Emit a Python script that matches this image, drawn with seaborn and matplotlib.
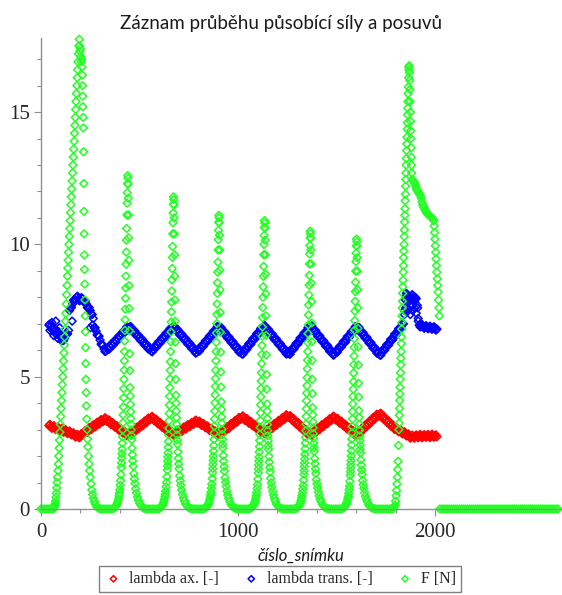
import matplotlib
matplotlib.use("Agg")
import matplotlib.pyplot as plt
import seaborn as sns
from matplotlib.ticker import MultipleLocator

# lambda ax. [-] and lambda trans. [-], one value every 10 frames (40 ... 2010)
frames_lambda = list(range(40, 2011, 10))

lambda_ax = [
    3.15, 3.12, 3.1, 3.08, 3.05, 3.03, 3.0, 2.98, 2.95, 2.92, 2.9, 2.87, 2.84, 2.8, 2.77, 2.74, 2.75,
    2.82, 2.88, 2.93, 2.99, 3.04, 3.09, 3.14, 3.19, 3.24, 3.29, 3.34, 3.38, 3.4,
    3.33, 3.28, 3.22, 3.17, 3.12, 3.06, 3.01, 2.96, 2.9, 2.85, 2.81,
    2.83, 2.88, 2.94, 3.0, 3.06, 3.11, 3.17, 3.23, 3.29, 3.35, 3.41, 3.47,
    3.42, 3.36, 3.3, 3.24, 3.18, 3.12, 3.06, 3.0, 2.94, 2.88, 2.82,
    2.84, 2.88, 2.93, 2.97, 3.01, 3.06, 3.1, 3.15, 3.19, 3.23, 3.28, 3.32,
    3.28, 3.24, 3.19, 3.15, 3.1, 3.05, 3.01, 2.96, 2.91, 2.86, 2.82,
    2.85, 2.91, 2.96, 3.02, 3.08, 3.14, 3.2, 3.25, 3.31, 3.37, 3.42, 3.48,
    3.43, 3.38, 3.33, 3.27, 3.22, 3.17, 3.11, 3.06, 3.0, 2.95, 2.89,
    2.92, 2.97, 3.03, 3.08, 3.14, 3.19, 3.25, 3.3, 3.36, 3.41, 3.47, 3.53,
    3.5, 3.44, 3.37, 3.3, 3.24, 3.17, 3.1, 3.04, 2.97, 2.9, 2.84, 2.81,
    2.86, 2.92, 2.97, 3.03, 3.09, 3.15, 3.2, 3.26, 3.32, 3.38, 3.44, 3.46,
    3.4, 3.34, 3.28, 3.23, 3.17, 3.11, 3.05, 2.99, 2.93, 2.87, 2.81,
    2.86, 2.93, 3.0, 3.07, 3.14, 3.21, 3.28, 3.35, 3.42, 3.49, 3.55, 3.59,
    3.52, 3.44, 3.37, 3.3, 3.23, 3.16, 3.1, 3.04, 3.0, 2.96, 2.92, 2.88, 2.84, 2.8, 2.76, 2.72,
    2.73, 2.75, 2.74, 2.76, 2.75, 2.74, 2.76, 2.77, 2.75, 2.76, 2.77, 2.76, 2.73,
]

lambda_trans = [
    6.95, 6.9, 6.8, 6.75, 6.6, 6.7, 6.5, 6.4, 6.45, 6.6, 6.75,
    7.6, 7.75, 7.9, 8.0, 7.95, 7.9, 7.95, 7.85, 7.75, 7.6, 7.5, 7.35,
    6.85, 6.72, 6.55, 6.38, 6.2, 6.05, 5.97,
    6.05, 6.13, 6.2, 6.28, 6.36, 6.44, 6.52, 6.6, 6.68, 6.77, 6.86,
    6.87, 6.8, 6.72, 6.64, 6.55, 6.47, 6.39, 6.3, 6.22, 6.14, 6.05, 5.96,
    6.03, 6.12, 6.2, 6.29, 6.37, 6.46, 6.54, 6.63, 6.71, 6.8, 6.88,
    6.84, 6.76, 6.67, 6.59, 6.5, 6.42, 6.33, 6.25, 6.16, 6.08, 5.99, 5.91,
    5.98, 6.07, 6.16, 6.25, 6.34, 6.43, 6.52, 6.61, 6.7, 6.79, 6.88,
    6.84, 6.75, 6.66, 6.57, 6.48, 6.39, 6.3, 6.21, 6.12, 6.03, 5.94, 5.86,
    5.95, 6.04, 6.14, 6.23, 6.33, 6.42, 6.52, 6.61, 6.71, 6.8, 6.9,
    6.86, 6.77, 6.68, 6.59, 6.5, 6.41, 6.32, 6.23, 6.14, 6.05, 5.96, 5.87,
    5.86, 5.96, 6.06, 6.15, 6.25, 6.35, 6.44, 6.54, 6.64, 6.74, 6.84, 6.9,
    6.81, 6.72, 6.63, 6.53, 6.44, 6.35, 6.25, 6.16, 6.07, 5.97, 5.88, 5.85,
    5.94, 6.03, 6.13, 6.22, 6.31, 6.41, 6.5, 6.59, 6.68, 6.78, 6.87,
    6.84, 6.75, 6.65, 6.56, 6.47, 6.37, 6.28, 6.18, 6.09, 5.99, 5.9, 5.82,
    5.91, 6.01, 6.1, 6.2, 6.3, 6.4, 6.5, 6.6, 6.7, 6.8, 6.9, 7.0,
    7.9, 8.1, 7.95, 8.05, 7.85, 8.0, 7.7,
    6.95, 6.93, 6.9, 6.88, 6.87, 6.86, 6.85, 6.84, 6.83, 6.8,
]

# the in-between frames (45 ... 2005): the measured bands are a bit noisy
frames_lambda_mid = list(range(45, 2006, 10))

lambda_ax_mid = [
    3.2, 3.05, 3.15, 3.0, 3.1, 2.96, 3.05, 2.9, 3.0, 2.85, 2.95, 2.8, 2.88, 2.72, 2.82, 2.69,
    2.85, 2.79, 2.97, 2.9, 3.08, 3.0, 3.18, 3.1, 3.28, 3.2, 3.38, 3.3, 3.45,
    3.31, 3.37, 3.19, 3.26, 3.09, 3.15, 2.98, 3.05, 2.87, 2.94, 2.77,
    2.88, 2.8, 2.97, 2.91, 3.09, 3.03, 3.2, 3.14, 3.32, 3.26, 3.44, 3.38,
    3.5, 3.33, 3.39, 3.21, 3.27, 3.09, 3.15, 2.97, 3.03, 2.85, 2.91,
    2.77, 2.92, 2.85, 3.01, 2.93, 3.1, 3.02, 3.19, 3.11, 3.27, 3.2, 3.36,
    3.24, 3.32, 3.16, 3.23, 3.07, 3.14, 2.97, 3.05, 2.88, 2.95, 2.78,
    2.9, 2.82, 3.0, 2.93, 3.11, 3.05, 3.23, 3.17, 3.34, 3.28, 3.46, 3.39,
    3.52, 3.35, 3.42, 3.24, 3.31, 3.14, 3.2, 3.03, 3.09, 2.92, 2.98,
    2.85, 3.0, 2.94, 3.12, 3.05, 3.23, 3.16, 3.34, 3.27, 3.45, 3.38, 3.56,
    3.46, 3.53, 3.35, 3.4, 3.21, 3.27, 3.08, 3.13, 2.95, 3.0, 2.81, 2.89,
    2.78, 2.95, 2.89, 3.06, 3.0, 3.18, 3.12, 3.29, 3.23, 3.41, 3.35, 3.51,
    3.37, 3.43, 3.25, 3.32, 3.14, 3.2, 3.02, 3.08, 2.9, 2.96, 2.78,
    2.9, 2.84, 3.03, 2.98, 3.17, 3.12, 3.31, 3.26, 3.45, 3.4, 3.58, 3.51,
    3.62, 3.42, 3.47, 3.28, 3.33, 3.14, 3.19, 3.01, 3.08, 2.92, 3.0, 2.84, 2.92, 2.76, 2.84, 2.68,
    2.79, 2.68, 2.8, 2.69, 2.82, 2.69, 2.81, 2.71, 2.82, 2.7, 2.83, 2.71, 2.8,
]

lambda_trans_mid = [
    6.99, 6.79, 6.84, 6.62, 6.71, 6.54, 6.51, 6.37, 6.59, 6.62,
    7.5, 7.62, 7.89, 7.89, 8.04, 7.87, 7.99, 7.84, 7.86, 7.62,
    7.61, 7.37, 7.2, 6.85, 6.58, 6.53, 6.23, 6.19, 5.95,
    6.07, 6.03, 6.23, 6.18, 6.38, 6.34, 6.54, 6.5, 6.7, 6.67, 6.88, 6.81,
    6.9, 6.7, 6.74, 6.54, 6.57, 6.37, 6.41, 6.2, 6.24, 6.04, 6.07, 5.94,
    6.14, 6.1, 6.31, 6.27, 6.48, 6.44, 6.65, 6.61, 6.82, 6.78, 6.92,
    6.74, 6.78, 6.57, 6.61, 6.4, 6.44, 6.23, 6.27, 6.06, 6.1, 5.89,
    6.01, 5.97, 6.18, 6.15, 6.36, 6.33, 6.54, 6.51, 6.72, 6.69, 6.9,
    6.8, 6.86, 6.65, 6.68, 6.47, 6.5, 6.29, 6.32, 6.11, 6.14, 5.93, 5.96,
    5.85, 6.06, 6.03, 6.25, 6.22, 6.44, 6.41, 6.63, 6.6, 6.82, 6.79,
    6.94, 6.76, 6.79, 6.58, 6.61, 6.4, 6.43, 6.22, 6.25, 6.04, 6.07, 5.86,
    5.93, 5.85, 6.07, 6.05, 6.26, 6.24, 6.46, 6.43, 6.65, 6.63, 6.85, 6.81,
    6.92, 6.71, 6.74, 6.52, 6.55, 6.34, 6.36, 6.15, 6.18, 5.96, 5.99, 5.81,
    5.96, 5.93, 6.14, 6.12, 6.33, 6.3, 6.52, 6.49, 6.7, 6.67, 6.89,
    6.8, 6.86, 6.64, 6.67, 6.46, 6.48, 6.27, 6.29, 6.08, 6.1, 5.89, 5.92,
    5.81, 6.02, 6.0, 6.21, 6.19, 6.41, 6.39, 6.61, 6.59, 6.81, 6.79, 7.01,
    7.5, 8.05, 7.9, 8.0, 7.95, 7.85, 7.95, 7.1,
    6.88, 6.97, 6.83, 6.93, 6.81, 6.91, 6.79, 6.89, 6.76,
]

# stray lambda trans. points (start blob, loose points, cluster near frame 1850-1915)
frames_trans_extra = [45, 55, 65, 75, 85, 95, 105, 158, 250, 262,
                      1845, 1852, 1855, 1858, 1863, 1865, 1868, 1875, 1880, 1885,
                      1887, 1893, 1895, 1898, 1905, 1912, 1915]
lambda_trans_extra = [6.75, 7.05, 6.55, 7.1, 6.45, 6.85, 6.35, 7.1, 6.85, 6.95,
                      7.35, 7.6, 8.15, 7.45, 7.8, 8.0, 7.55, 7.35, 7.7, 8.1,
                      7.5, 7.9, 7.95, 7.6, 7.4, 7.6, 7.2]

# F [N], one block per loading cycle
frames_f1 = ([0, 10, 20, 30, 40, 50] + list(range(60, 195, 2))
             + [196, 198, 200, 202, 204, 206, 208] + list(range(210, 231))
             + [232, 234, 236, 238, 241, 244, 247, 250, 254, 258, 262, 266, 271, 276, 282, 288,
                295, 302, 310, 320, 330, 340, 350])
force_f1 = [0.0, 0.0, 0.0, 0.0, 0.0, 0.0,
            0.0, 0.01, 0.03, 0.05, 0.1, 0.15, 0.2, 0.3, 0.45, 0.6, 0.8, 1.0, 1.2, 1.45, 1.7, 2.0, 2.3,
            2.6, 2.9, 3.2, 3.5, 3.8, 4.1, 4.4, 4.7, 5.0, 5.3, 5.6, 5.9, 6.2, 6.5, 6.8, 7.1, 7.4,
            7.75, 8.1, 8.45, 8.8, 9.1, 9.4, 9.7, 10.0, 10.3, 10.6, 10.9, 11.2, 11.5, 11.8,
            12.1, 12.4, 12.7, 13.0, 13.3, 13.6, 13.9, 14.2, 14.5, 14.8, 15.1, 15.4, 15.7,
            16.0, 16.3, 16.6, 16.9, 17.2, 17.5, 17.75,
            17.5, 17.3, 17.4, 17.1, 16.9, 17.0, 16.7,
            16.4, 16.0, 15.6, 15.2, 14.8, 14.4, 13.5, 12.3, 11.25, 10.4, 9.6, 9.05, 8.5, 7.9,
            7.3, 6.7, 6.1, 5.5, 4.9, 4.4, 3.9,
            3.4, 3.0, 2.65, 2.35, 2.0, 1.7, 1.45, 1.2, 0.95, 0.72, 0.55, 0.4, 0.28, 0.18, 0.1, 0.05,
            0.02, 0.0, 0.0, 0.0, 0.0, 0.0, 0.0]

frames_f2 = ([360, 368, 374, 379, 383, 387, 390, 393, 396, 398, 400, 402, 404, 406] + list(range(408, 461))
             + [462, 464, 466, 468, 471, 474, 477, 481, 485, 490, 495, 501, 507, 514, 522, 530, 538,
                548, 558, 568, 578, 588])
force_f2 = [0.0, 0.02, 0.05, 0.1, 0.15, 0.21, 0.29, 0.38, 0.5, 0.6, 0.73, 0.9, 1.07, 1.3,
            1.57, 1.74, 1.92, 2.09, 2.26, 2.49, 2.72, 2.99,
            3.26, 3.56, 3.86, 4.2, 4.55, 4.9, 5.25, 5.6, 5.95, 6.35, 6.75, 7.15, 7.55, 7.96,
            8.35, 8.8, 9.25, 9.71, 10.16, 10.6, 11.11, 11.56, 11.95, 12.3, 12.6,
            12.5, 12.28, 11.75, 11.11, 10.25, 9.4, 8.44, 7.58, 6.73, 5.87, 5.23, 4.59,
            4.27, 3.95, 3.68, 3.42, 3.2, 2.99, 2.78, 2.62,
            2.3, 2.05, 1.82, 1.62, 1.34, 1.14, 0.96, 0.77, 0.6, 0.45, 0.33, 0.21, 0.14, 0.07,
            0.03, 0.01, 0.0, 0.0, 0.0, 0.0, 0.0, 0.0]

frames_f3 = ([593, 601, 607, 612, 616, 620, 623, 626, 629, 631, 633, 635, 637, 639] + list(range(641, 694))
             + [695, 697, 699, 701, 704, 707, 710, 714, 718, 723, 728, 734, 740, 747, 755, 763, 771,
                781, 791, 801, 811, 821])
force_f3 = [0.0, 0.02, 0.05, 0.09, 0.14, 0.2, 0.27, 0.36, 0.47, 0.56, 0.68, 0.84, 1.0, 1.22,
            1.47, 1.63, 1.8, 1.96, 2.12, 2.33, 2.55, 2.8,
            3.05, 3.33, 3.61, 3.93, 4.26, 4.59, 4.92, 5.24, 5.57, 5.95, 6.32, 6.69, 7.07, 7.45,
            7.82, 8.24, 8.66, 9.09, 9.51, 9.92, 10.4, 10.82, 11.19, 11.52, 11.8,
            11.7, 11.5, 11.0, 10.4, 9.6, 8.8, 7.9, 7.1, 6.3, 5.5, 4.9, 4.3,
            4.0, 3.7, 3.45, 3.2, 3.0, 2.8, 2.6, 2.45,
            2.15, 1.92, 1.7, 1.52, 1.25, 1.07, 0.9, 0.72, 0.56, 0.42, 0.31, 0.2, 0.13, 0.07,
            0.03, 0.01, 0.0, 0.0, 0.0, 0.0, 0.0, 0.0]

frames_f4 = ([823, 831, 837, 842, 846, 850, 853, 856, 859, 861, 863, 865, 867, 869] + list(range(871, 924))
             + [925, 927, 929, 931, 934, 937, 940, 944, 948, 953, 958, 964, 970, 977, 985, 993, 1001,
                1011, 1021, 1031, 1041, 1051])
force_f4 = [0.0, 0.02, 0.05, 0.08, 0.13, 0.19, 0.25, 0.34, 0.44, 0.53, 0.64, 0.79, 0.94, 1.15,
            1.38, 1.53, 1.69, 1.84, 1.99, 2.19, 2.4, 2.63,
            2.87, 3.13, 3.4, 3.7, 4.01, 4.32, 4.63, 4.93, 5.24, 5.6, 5.95, 6.3, 6.65, 7.01,
            7.36, 7.75, 8.15, 8.55, 8.95, 9.33, 9.79, 10.18, 10.53, 10.84, 11.1,
            11.01, 10.82, 10.35, 9.79, 9.03, 8.28, 7.43, 6.68, 5.93, 5.18, 4.61, 4.05,
            3.76, 3.48, 3.25, 3.01, 2.82, 2.63, 2.45, 2.31,
            2.02, 1.81, 1.6, 1.43, 1.18, 1.01, 0.85, 0.68, 0.53, 0.4, 0.29, 0.19, 0.12, 0.07,
            0.03, 0.01, 0.0, 0.0, 0.0, 0.0, 0.0, 0.0]

frames_f5 = ([1055, 1063, 1069, 1074, 1078, 1082, 1085, 1088, 1091, 1093, 1095, 1097, 1099, 1101]
             + list(range(1103, 1156))
             + [1157, 1159, 1161, 1163, 1166, 1169, 1172, 1176, 1180, 1185, 1190, 1196, 1202, 1209,
                1217, 1225, 1233, 1243, 1253, 1263, 1273, 1283])
force_f5 = [0.0, 0.02, 0.05, 0.08, 0.13, 0.18, 0.25, 0.33, 0.43, 0.52, 0.63, 0.78, 0.92, 1.13,
            1.36, 1.51, 1.66, 1.81, 1.96, 2.15, 2.36, 2.59,
            2.82, 3.08, 3.34, 3.63, 3.94, 4.24, 4.55, 4.84, 5.15, 5.5, 5.84, 6.18, 6.53, 6.88,
            7.23, 7.61, 8.0, 8.4, 8.79, 9.17, 9.61, 10.0, 10.34, 10.64, 10.9,
            10.81, 10.63, 10.16, 9.61, 8.87, 8.13, 7.3, 6.56, 5.82, 5.08, 4.53, 3.97,
            3.7, 3.42, 3.19, 2.96, 2.77, 2.59, 2.4, 2.26,
            1.99, 1.77, 1.57, 1.4, 1.16, 0.99, 0.83, 0.67, 0.52, 0.39, 0.29, 0.18, 0.12, 0.06,
            0.03, 0.01, 0.0, 0.0, 0.0, 0.0, 0.0, 0.0]

frames_f6 = ([1287, 1295, 1301, 1306, 1310, 1314, 1317, 1320, 1323, 1325, 1327, 1329, 1331, 1333]
             + list(range(1335, 1388))
             + [1389, 1391, 1393, 1395, 1398, 1401, 1404, 1408, 1412, 1417, 1422, 1428, 1434, 1441,
                1449, 1457, 1465, 1475, 1485, 1495, 1505, 1515])
force_f6 = [0.0, 0.02, 0.04, 0.08, 0.12, 0.18, 0.24, 0.32, 0.42, 0.5, 0.61, 0.75, 0.89, 1.09,
            1.31, 1.45, 1.6, 1.74, 1.89, 2.07, 2.27, 2.49,
            2.71, 2.96, 3.21, 3.5, 3.79, 4.09, 4.38, 4.66, 4.96, 5.3, 5.62, 5.95, 6.29, 6.63,
            6.96, 7.33, 7.71, 8.09, 8.46, 8.83, 9.26, 9.63, 9.96, 10.25, 10.5,
            10.41, 10.24, 9.79, 9.26, 8.54, 7.83, 7.03, 6.32, 5.61, 4.9, 4.36, 3.83,
            3.56, 3.29, 3.07, 2.85, 2.67, 2.49, 2.31, 2.18,
            1.91, 1.71, 1.51, 1.35, 1.11, 0.95, 0.8, 0.64, 0.5, 0.37, 0.28, 0.18, 0.12, 0.06,
            0.03, 0.01, 0.0, 0.0, 0.0, 0.0, 0.0, 0.0]

frames_f7 = ([1522, 1530, 1536, 1541, 1545, 1549, 1552, 1555, 1558, 1560, 1562, 1564, 1566, 1568]
             + list(range(1570, 1623))
             + [1624, 1626, 1628, 1630, 1633, 1636, 1639, 1643, 1647, 1652, 1657, 1663, 1669, 1676,
                1684, 1692, 1700, 1710, 1720, 1730, 1740, 1750, 1760, 1770, 1780])
force_f7 = [0.0, 0.02, 0.04, 0.08, 0.12, 0.17, 0.23, 0.31, 0.41, 0.48, 0.59, 0.73, 0.86, 1.05,
            1.27, 1.41, 1.56, 1.69, 1.83, 2.01, 2.2, 2.42,
            2.64, 2.88, 3.12, 3.4, 3.68, 3.97, 4.25, 4.53, 4.81, 5.14, 5.46, 5.78, 6.11, 6.44,
            6.76, 7.12, 7.48, 7.85, 8.22, 8.57, 8.99, 9.35, 9.67, 9.95, 10.2,
            10.11, 9.94, 9.5, 8.99, 8.29, 7.6, 6.83, 6.13, 5.44, 4.75, 4.23, 3.72,
            3.46, 3.2, 2.98, 2.76, 2.59, 2.42, 2.25, 2.12,
            1.86, 1.66, 1.47, 1.31, 1.08, 0.92, 0.78, 0.62, 0.48, 0.36, 0.27, 0.17, 0.11, 0.06,
            0.03, 0.01, 0.0, 0.0, 0.0, 0.0, 0.0, 0.0, 0.0, 0.0, 0.0]

frames_f8 = ([1786, 1790, 1794, 1797, 1800, 1803, 1805, 1807, 1809, 1811, 1813, 1815]
             + list(range(1817, 1868)) + [1868, 1869, 1870] + list(range(1872, 1884))
             + list(range(1886, 1995, 4)) + list(range(1996, 2023, 2)))
force_f8 = [0.0, 0.03, 0.08, 0.15, 0.3, 0.5, 0.7, 0.95, 1.2, 1.5, 1.8, 2.4,
            3.0, 3.25, 3.55, 3.8, 4.1, 4.35, 4.6, 4.9, 5.15, 5.45, 5.7, 5.95, 6.25, 6.5, 6.8,
            7.05, 7.3, 7.6, 7.85, 8.15, 8.4, 8.65, 8.95, 9.2, 9.5, 9.75, 10.0, 10.3, 10.55,
            10.85, 11.1, 11.35, 11.65, 11.9, 12.2, 12.45, 12.7, 13.0, 13.25, 13.55, 13.8,
            14.05, 14.35, 14.6, 14.9, 15.15, 15.4, 15.7, 15.95, 16.3, 16.7,
            16.6, 16.75, 16.5,
            16.2, 15.85, 15.4, 15.0, 14.65, 14.3, 14.0, 13.65, 13.3, 13.0, 12.7, 12.45,
            12.45, 12.4, 12.35, 12.3, 12.2, 12.1, 12.05, 12.0, 11.95, 11.9, 11.85, 11.75, 11.6,
            11.5, 11.42, 11.38, 11.3, 11.25, 11.2, 11.15, 11.12, 11.1, 11.07, 11.05, 11.02,
            11.0, 10.95, 10.9,
            10.7, 10.45, 10.2, 9.95, 9.7, 9.45, 9.2, 8.95, 8.7, 8.45, 8.2, 7.9, 7.6, 7.3]

# machine unloaded after frame ~2020
frames_rest = list(range(2025, 2630, 10))
force_rest = [0.0] * len(frames_rest)

frames_F = (frames_f1 + frames_f2 + frames_f3 + frames_f4 + frames_f5 + frames_f6
            + frames_f7 + frames_f8 + frames_rest)
force = (force_f1 + force_f2 + force_f3 + force_f4 + force_f5 + force_f6
         + force_f7 + force_f8 + force_rest)

sns.set_style("ticks")
plt.rcParams["font.family"] = ["Liberation Serif", "DejaVu Serif"]

fig = plt.figure(figsize=(5.62, 5.95), dpi=100)
ax = fig.add_axes([41 / 562, 86 / 595, 520 / 562, 471 / 595])

series = [
    (frames_lambda + frames_lambda_mid, lambda_ax + lambda_ax_mid, "#ff0000", "lambda ax. [-]"),
    (frames_lambda + frames_lambda_mid + frames_trans_extra,
     lambda_trans + lambda_trans_mid + lambda_trans_extra, "#0000ff", "lambda trans. [-]"),
    (frames_F, force, "#22ff22", "F [N]"),
]
for fr, val, col, lab in series:
    sns.scatterplot(x=fr, y=val, ax=ax, marker="D", s=16, facecolor="none",
                    edgecolor=col, linewidth=1.1, label=lab, legend=False, clip_on=False)

ax.set_xlim(0, 2640)
ax.set_ylim(0, 17.8)
sns.despine(ax=ax)
for side in ["left", "bottom"]:
    ax.spines[side].set_color("#909090")
    ax.spines[side].set_linewidth(1.0)

ax.xaxis.set_major_locator(MultipleLocator(1000))
ax.xaxis.set_minor_locator(MultipleLocator(200))
ax.yaxis.set_major_locator(MultipleLocator(5))
ax.yaxis.set_minor_locator(MultipleLocator(1))
ax.tick_params(which="both", direction="out", color="#909090", width=0.8, labelsize=15)
ax.tick_params(which="major", length=5)
ax.tick_params(which="minor", length=3)
ax.tick_params(axis="y", pad=3)
ax.tick_params(axis="x", pad=5)
ax.set_xlabel("")
ax.set_ylabel("")

fig.text(281 / 562, 1 - 23 / 595, "Záznam průběhu působící síly a posuvů", ha="center", va="center",
         fontsize=13.5, family=["Lato", "DejaVu Sans"], color="#1a1a1a")
fig.text(301 / 562, 1 - 556 / 595, "číslo_snímku", ha="center", va="center",
         fontsize=12, fontstyle="italic", family=["Lato", "DejaVu Sans"], color="#1a1a1a")

handles, labels = ax.get_legend_handles_labels()
fig.legend(handles, labels, loc="center", bbox_to_anchor=(280 / 562, 1 - 579 / 595), ncol=3,
           fancybox=False, edgecolor="#808080", framealpha=1, fontsize=11.5, markerscale=0.8,
           handletextpad=0.4, columnspacing=1.4, borderpad=0.3, handlelength=1.2)

fig.savefig("out.png", dpi=100)
